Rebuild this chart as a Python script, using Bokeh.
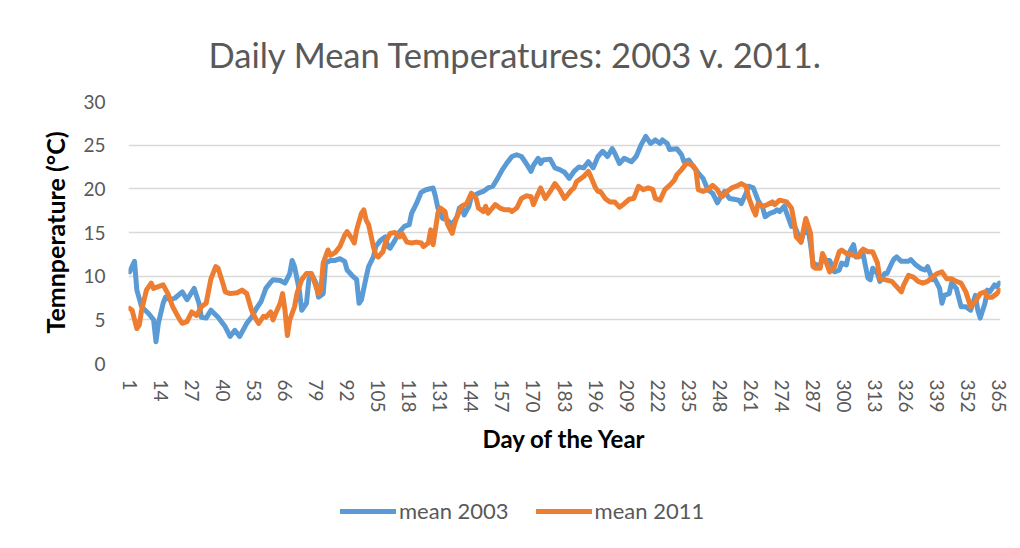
from bokeh.plotting import figure
from bokeh.models import Range1d, FixedTicker, Legend, LegendItem, Title
from bokeh.layouts import column
from bokeh.embed import file_html
from bokeh.resources import INLINE

# ---- data (day of year, daily mean °C) ----
day_2003 = [1, 3, 4, 6, 9, 11, 12, 13, 15, 16, 18, 20, 23, 25, 28, 30, 31, 33, 35, 38,
            41, 43, 45, 47, 50, 52, 54, 56, 58, 60, 61, 64, 66, 68, 69, 70, 72, 73, 75, 76,
            77, 79, 80, 82, 83, 85, 87, 89, 91, 92, 94, 96, 97, 98, 100, 101, 103, 104, 106, 108,
            109, 110, 112, 114, 116, 118, 119, 121, 123, 125, 128, 129, 130, 132, 134, 136, 138, 139, 140, 141,
            143, 144, 147, 149, 151, 153, 155, 157, 159, 161, 163, 165, 167, 169, 170, 172, 173, 174, 177, 179,
            181, 183, 185, 187, 189, 191, 193, 195, 197, 199, 201, 203, 204, 206, 208, 211, 213, 215, 217, 219,
            221, 223, 224, 226, 227, 230, 232, 233, 235, 237, 239, 241, 243, 245, 247, 248, 250, 252, 254, 256,
            257, 259, 260, 262, 264, 266, 267, 269, 271, 272, 273, 275, 276, 278, 279, 280, 282, 283, 285, 286,
            287, 290, 291, 292, 294, 296, 298, 299, 301, 302, 304, 305, 307, 308, 310, 311, 312, 314, 315, 317,
            318, 320, 321, 322, 324, 327, 328, 330, 332, 334, 335, 337, 338, 340, 341, 342, 344, 345, 347, 349,
            351, 353, 355, 356, 357, 359, 360, 361, 363, 364, 365]
temp_2003 = [10.5, 11.7, 8.4, 6.5, 5.7, 5.0, 2.5, 4.6, 6.9, 7.6, 7.3, 7.5, 8.2, 7.3, 8.6, 6.9, 5.3, 5.2, 6.1, 5.3,
             4.2, 3.1, 3.8, 3.1, 4.6, 5.3, 6.3, 7.1, 8.6, 9.3, 9.6, 9.5, 9.2, 10.3, 11.8, 11.1, 8.4, 6.1, 6.9, 9.6,
             10.3, 9.2, 7.6, 8.0, 11.5, 11.8, 11.8, 12.0, 11.7, 10.7, 10.1, 9.6, 6.9, 7.3, 9.9, 11.1, 12.2, 13.4, 14.1, 14.5,
             13.4, 13.2, 14.1, 15.1, 15.7, 15.9, 17.2, 18.3, 19.6, 19.9, 20.1, 19.1, 17.8, 16.6, 16.4, 15.9, 16.8, 17.8, 18.0, 17.0,
             18.0, 19.1, 19.5, 19.7, 20.1, 20.3, 21.2, 22.2, 23.0, 23.7, 23.9, 23.7, 22.9, 22.0, 22.7, 23.5, 22.9, 23.3, 23.4, 22.4,
             22.2, 21.9, 21.2, 22.0, 22.5, 22.4, 23.1, 22.4, 23.7, 24.3, 23.7, 24.6, 24.1, 22.9, 23.5, 23.1, 23.7, 25.0, 26.0, 25.2,
             25.6, 25.2, 25.6, 25.2, 24.5, 24.6, 23.9, 23.1, 23.3, 22.5, 21.8, 21.2, 19.9, 19.5, 18.4, 18.9, 19.7, 18.9, 18.8, 18.7,
             18.3, 19.5, 20.3, 20.1, 18.7, 17.8, 16.8, 17.2, 17.4, 17.6, 17.4, 18.0, 17.2, 15.7, 15.9, 15.3, 13.9, 14.9, 15.3, 13.6,
             11.5, 11.1, 12.2, 11.8, 11.8, 10.5, 10.7, 11.5, 11.3, 12.6, 13.6, 12.2, 12.3, 12.5, 9.8, 9.6, 10.9, 10.3, 9.4, 10.3,
             10.3, 11.5, 12.0, 12.2, 11.7, 11.7, 11.9, 11.3, 10.9, 10.7, 11.1, 9.6, 9.7, 8.6, 6.9, 7.8, 8.0, 9.2, 8.6, 6.5,
             6.5, 6.1, 7.8, 6.1, 5.2, 6.9, 8.4, 8.2, 9.0, 8.8, 9.2]

day_2011 = [1, 2, 4, 5, 6, 8, 10, 11, 13, 15, 17, 19, 22, 23, 25, 27, 29, 31, 33, 35,
            37, 38, 40, 41, 43, 46, 48, 50, 52, 54, 55, 57, 58, 60, 61, 62, 64, 65, 66, 67,
            68, 70, 71, 73, 75, 77, 78, 80, 81, 82, 84, 85, 87, 89, 91, 92, 94, 95, 96, 98,
            99, 100, 101, 103, 104, 105, 107, 108, 110, 112, 114, 115, 117, 119, 121, 123, 124, 126, 127, 128,
            130, 131, 133, 134, 136, 137, 138, 140, 142, 144, 146, 147, 149, 150, 151, 154, 156, 158, 160, 161,
            163, 165, 167, 169, 170, 172, 173, 175, 177, 179, 181, 183, 184, 186, 187, 188, 191, 193, 194, 196,
            197, 198, 200, 202, 204, 206, 208, 210, 212, 214, 216, 218, 220, 221, 223, 224, 225, 227, 229, 230,
            232, 234, 235, 237, 238, 239, 241, 243, 245, 247, 248, 249, 251, 253, 255, 257, 259, 260, 262, 263,
            264, 266, 268, 270, 271, 273, 276, 278, 279, 280, 282, 283, 284, 286, 287, 288, 290, 291, 292, 294,
            296, 298, 299, 301, 304, 306, 307, 308, 310, 312, 314, 315, 317, 320, 322, 324, 325, 327, 329, 331,
            333, 335, 337, 339, 341, 343, 345, 347, 349, 351, 353, 355, 357, 359, 360, 362, 364, 365]
temp_2011 = [6.3, 6.1, 4.0, 4.4, 6.1, 8.4, 9.2, 8.6, 8.8, 9.0, 8.0, 6.5, 5.0, 4.6, 4.8, 5.9, 5.5, 6.5, 6.9, 9.7,
             11.1, 10.9, 9.2, 8.2, 8.0, 8.1, 8.4, 8.0, 6.1, 5.0, 4.6, 5.4, 5.3, 5.9, 5.0, 5.7, 6.9, 8.0, 6.1, 3.2,
             5.0, 6.5, 8.0, 9.6, 10.3, 10.3, 9.6, 8.0, 8.4, 11.5, 13.0, 12.4, 12.7, 13.4, 14.7, 15.1, 14.3, 13.8, 15.3, 17.2,
             17.6, 16.4, 15.9, 13.4, 12.4, 12.2, 12.8, 13.8, 14.9, 15.0, 14.5, 14.9, 13.9, 13.8, 13.9, 13.8, 13.4, 13.8, 15.3, 13.6,
             17.2, 17.8, 17.4, 16.0, 14.9, 16.0, 16.8, 18.0, 18.3, 19.5, 18.9, 17.8, 17.4, 18.0, 17.2, 18.2, 17.8, 17.6, 17.6, 17.4,
             17.8, 18.9, 19.2, 19.1, 18.2, 19.5, 20.1, 18.9, 19.7, 20.6, 19.9, 18.9, 19.2, 19.9, 20.1, 20.8, 21.4, 22.0, 21.4, 20.1,
             19.7, 19.7, 18.9, 18.5, 18.5, 17.9, 18.3, 18.8, 18.9, 20.3, 19.9, 20.1, 19.9, 18.9, 18.7, 19.3, 19.9, 20.4, 21.0, 21.6,
             22.2, 22.9, 22.9, 22.6, 22.2, 19.9, 19.7, 19.9, 20.4, 19.9, 19.4, 19.1, 19.7, 20.1, 20.3, 20.6, 20.3, 19.1, 17.6, 17.0,
             18.3, 18.0, 18.2, 18.5, 18.2, 18.7, 18.5, 17.8, 16.4, 14.5, 13.9, 15.3, 16.6, 14.9, 11.1, 10.9, 10.9, 12.6, 12.0, 10.5,
             11.1, 12.8, 13.0, 12.6, 12.4, 12.2, 12.8, 13.1, 12.8, 12.8, 11.5, 9.7, 9.6, 9.4, 8.8, 8.2, 9.0, 10.1, 9.9, 9.4,
             9.2, 9.4, 9.9, 10.3, 10.5, 9.7, 9.7, 9.4, 9.2, 8.2, 6.5, 7.1, 8.0, 8.2, 7.6, 7.6, 8.0, 8.4]

x_ticks = [1, 14, 27, 40, 53, 66, 79, 92, 105, 118, 131, 144, 157, 170, 183, 196, 209,
           222, 235, 248, 261, 274, 287, 300, 313, 326, 339, 352, 365]
y_ticks = [0, 5, 10, 15, 20, 25, 30]

series_names = ["mean 2003", "mean 2011"]
series_colors = ["#5B9BD5", "#ED7D31"]

FONT = "Lato"
GRAY = "#595959"

# ---------------- main chart ----------------
p = figure(width=1016, height=460, output_backend="svg", toolbar_location=None,
           x_range=Range1d(0.5, 365.5), y_range=Range1d(0, 30),
           min_border_left=128, min_border_right=16, min_border_top=101, min_border_bottom=97)
p.outline_line_color = None
p.background_fill_color = "white"
p.border_fill_color = "white"

t = Title(text="Daily Mean Temperatures: 2003 v. 2011.", align="left", offset=80,
          text_font=FONT, text_font_size="34.5px", text_font_style="normal",
          text_color=GRAY, standoff=54)
p.add_layout(t, "above")

p.line(day_2003, temp_2003, line_color=series_colors[0], line_width=5, line_join="round", line_cap="round")
p.line(day_2011, temp_2011, line_color=series_colors[1], line_width=5, line_join="round", line_cap="round")

p.xaxis.ticker = FixedTicker(ticks=x_ticks)
p.yaxis.ticker = FixedTicker(ticks=y_ticks)
p.xgrid.grid_line_color = None
p.ygrid.grid_line_color = "#d9d9d9"
p.ygrid.grid_line_width = 1.3

for ax in (p.xaxis[0], p.yaxis[0]):
    ax.axis_line_color = None
    ax.major_tick_line_color = None
    ax.minor_tick_line_color = None
    ax.major_label_text_font = FONT
    ax.major_label_text_font_size = "19px"
    ax.major_label_text_color = GRAY
    ax.axis_label_text_font = FONT
    ax.axis_label_text_font_style = "bold"
    ax.axis_label_text_color = "black"

p.xaxis.major_label_orientation = "vertical"
p.xaxis.major_label_standoff = 10
p.xaxis.axis_label = "Day of the Year"
p.xaxis.axis_label_text_font_size = "24px"
p.xaxis.axis_label_standoff = 8
p.yaxis.major_label_standoff = 17
p.yaxis.axis_label = "Temnperature (°C)"
p.yaxis.axis_label_text_font_size = "25px"
p.yaxis.axis_label_standoff = 10

# ---------------- legend strip below the chart ----------------
# the same series are drawn here but kept outside the visible y-range,
# so only the legend keys show
lf = figure(width=1016, height=86, output_backend="svg", toolbar_location=None,
            x_range=Range1d(0.5, 365.5), y_range=Range1d(100, 186),
            x_axis_type=None, y_axis_type=None,
            min_border_left=0, min_border_right=0, min_border_top=0, min_border_bottom=0)
lf.outline_line_color = None
lf.xgrid.grid_line_color = None
lf.ygrid.grid_line_color = None
lf.background_fill_color = "white"
lf.border_fill_color = "white"
k1 = lf.line(day_2003, temp_2003, line_color=series_colors[0], line_width=5, line_cap="round")
k2 = lf.line(day_2011, temp_2011, line_color=series_colors[1], line_width=5, line_cap="round")

legend = Legend(items=[LegendItem(label=series_names[0], renderers=[k1]),
                       LegendItem(label=series_names[1], renderers=[k2])],
                orientation="horizontal", location=(212, 22),
                glyph_width=56, glyph_height=20, label_standoff=3, spacing=27,
                padding=0, margin=0, border_line_color=None, background_fill_alpha=0,
                label_text_font=FONT, label_text_font_size="22px", label_text_color=GRAY)
lf.add_layout(legend, "center")

layout = column(p, lf, spacing=0)
open("out.html", "w").write(file_html(layout, INLINE))
